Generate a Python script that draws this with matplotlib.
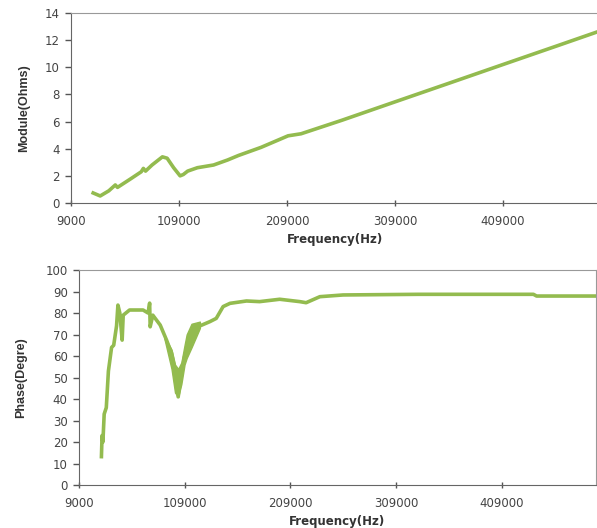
import matplotlib.pyplot as plt
import numpy as np

# module curve (Hz, Ohms)
mod_freq = [29500, 36000, 44000, 50000, 52000, 64000, 74000, 76000, 78000, 84000, 93600, 98000,
            104000, 110000, 113000, 117000, 126000, 141000, 154000, 164000, 185000, 210000,
            222000, 260000, 309000, 360000, 409000, 460000, 498000]
module = [0.74, 0.52, 0.9, 1.33, 1.15, 1.77, 2.3, 2.55, 2.35, 2.8, 3.4, 3.3,
          2.6, 2.0, 2.1, 2.35, 2.6, 2.8, 3.17, 3.5, 4.1, 4.95,
          5.1, 6.1, 7.45, 8.85, 10.2, 11.6, 12.65]

# phase curve (Hz, degrees)
ph_freq = [30400, 31000, 31800, 33000, 35000, 37000, 40000, 42000, 44700, 46000, 47800, 50000,
           51000, 57000, 69800, 74500, 76000, 76500, 79000, 86000, 92000, 96700, 100000,
           103000, 106000, 109000, 111000, 115600, 123500, 133000, 139000, 145500, 152000,
           167600, 180000, 199000, 218000, 224000, 237000, 259000, 330000, 439000, 442000, 498000]
phase = [13.2, 23, 20, 33, 36, 53, 64, 65, 74, 83.7, 80, 67.4,
         79, 81.4, 81.4, 80, 84.6, 73.6, 79, 74.4, 67.4, 61.3, 53.5,
         41, 52, 59.7, 62.8, 70, 74, 76, 77.5, 83, 84.5,
         85.6, 85.3, 86.4, 85.3, 84.8, 87.6, 88.4, 88.7, 88.7, 87.9, 87.9]

# noisy band around the resonance dip
band_freq = [90000, 96700, 100000, 103000, 106000, 109000, 111000, 115600, 123500]
band_lo = [68, 54, 43, 41, 47, 56, 59, 64, 73]
band_hi = [69, 63, 56, 54, 57, 65, 70, 75, 76]

green = '#93bb4f'
xticks = [9000, 109000, 209000, 309000, 409000]

fig = plt.figure(figsize=(5.97, 5.28), dpi=100)
ax1 = fig.add_axes([0.119, 0.6155, 0.885, 0.36])
ax2 = fig.add_axes([0.132, 0.0814, 0.866, 0.4072])

ax1.plot(mod_freq, module, color=green, lw=2.6, solid_joinstyle='round')
ax2.plot(ph_freq, phase, color=green, lw=2.6, solid_joinstyle='round')
ax2.fill_between(band_freq, band_lo, band_hi, color=green, lw=1, edgecolor=green)

ax1.set_xlim(9000, 498300)
ax1.set_ylim(0, 14)
ax1.set_yticks(np.arange(0, 15, 2))
ax2.set_xlim(9000, 498000)
ax2.set_ylim(0, 100)
ax2.set_yticks(np.arange(0, 101, 10))

for ax in (ax1, ax2):
    ax.set_xticks(xticks)
    ax.tick_params(axis='x', direction='inout', length=5, width=1, colors='#555555',
                   labelcolor='#444444', labelsize=8.5, pad=6)
    ax.tick_params(axis='y', direction='out', length=4, width=1, colors='#555555',
                   labelcolor='#444444', labelsize=8.5, pad=4)
    ax.spines['left'].set_color('#666666')
    ax.spines['bottom'].set_color('#666666')
    ax.spines['top'].set_color('#999999')
    ax.spines['right'].set_color('#999999')
    ax.set_xlabel('Frequency(Hz)', fontsize=8.5, fontweight='bold', color='#333333', labelpad=4)

ax1.spines['right'].set_visible(False)

ax1.set_ylabel('Module(Ohms)', fontsize=9, fontweight='bold', color='#333333',
               family='Liberation Sans', labelpad=11)
ax2.set_ylabel('Phase(Degre)', fontsize=9, fontweight='bold', color='#333333',
               family='Liberation Sans', labelpad=13)

fig.savefig('out.png', dpi=100)
